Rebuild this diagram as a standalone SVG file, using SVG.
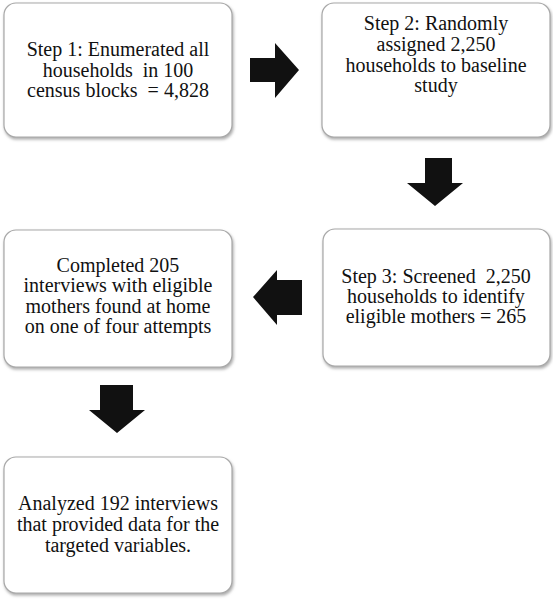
<svg xmlns="http://www.w3.org/2000/svg" width="553" height="600" viewBox="0 0 553 600">
<defs>
<filter id="sh" x="-5%" y="-5%" width="112%" height="115%">
<feDropShadow dx="1" dy="2" stdDeviation="1.5" flood-color="#888" flood-opacity="0.7"/>
</filter>
</defs>
<style>
.box{fill:#fff;stroke:#a8a8a8;stroke-width:1.2;filter:url(#sh)}
.t{font-family:'Liberation Serif','Times New Roman',serif;font-size:20px;fill:#111;text-anchor:middle;white-space:pre}
.arr{fill:#111}
</style>
<rect width="553" height="600" fill="#fff"/>
<g id="connectors">
<polygon class="arr" points="250,58 275,58 275,43 299,70 275,98 275,82 250,82"/>
<polygon class="arr" points="425,158 452,158 452,183 463,183 435,206 407,183 425,183"/>
<polygon class="arr" points="302,280 277,280 277,270 253,297 277,325 277,315 302,315"/>
<polygon class="arr" points="100,385 133,385 133,410 145,410 117,433 89,410 100,410"/>
</g>
<g id="step1">
<rect class="box" x="4" y="3" width="228" height="134" rx="12"/>
<text class="t" x="118" y="56">Step 1: Enumerated all</text>
<text class="t" x="118" y="77" xml:space="preserve">households  in 100</text>
<text class="t" x="118" y="97" xml:space="preserve">census blocks  = 4,828</text>
</g>
<g id="step2">
<rect class="box" x="322" y="3" width="228" height="134" rx="12"/>
<text class="t" x="436" y="30">Step 2: Randomly</text>
<text class="t" x="436" y="51">assigned 2,250</text>
<text class="t" x="436" y="72">households to baseline</text>
<text class="t" x="436" y="92">study</text>
</g>
<g id="step3">
<rect class="box" x="323" y="229" width="227" height="137" rx="12"/>
<text class="t" x="436" y="283" xml:space="preserve">Step 3: Screened  2,250</text>
<text class="t" x="436" y="303">households to identify</text>
<text class="t" x="436" y="323">eligible mothers = 265</text>
</g>
<g id="completed">
<rect class="box" x="4" y="230" width="228" height="137" rx="12"/>
<text class="t" x="118" y="272">Completed 205</text>
<text class="t" x="118" y="292">interviews with eligible</text>
<text class="t" x="118" y="313">mothers found at home</text>
<text class="t" x="118" y="333">on one of four attempts</text>
</g>
<g id="analyzed">
<rect class="box" x="4" y="457" width="228" height="136" rx="12"/>
<text class="t" x="118" y="510">Analyzed 192 interviews</text>
<text class="t" x="118" y="531">that provided data for the</text>
<text class="t" x="118" y="552">targeted variables.</text>
</g>
</svg>
